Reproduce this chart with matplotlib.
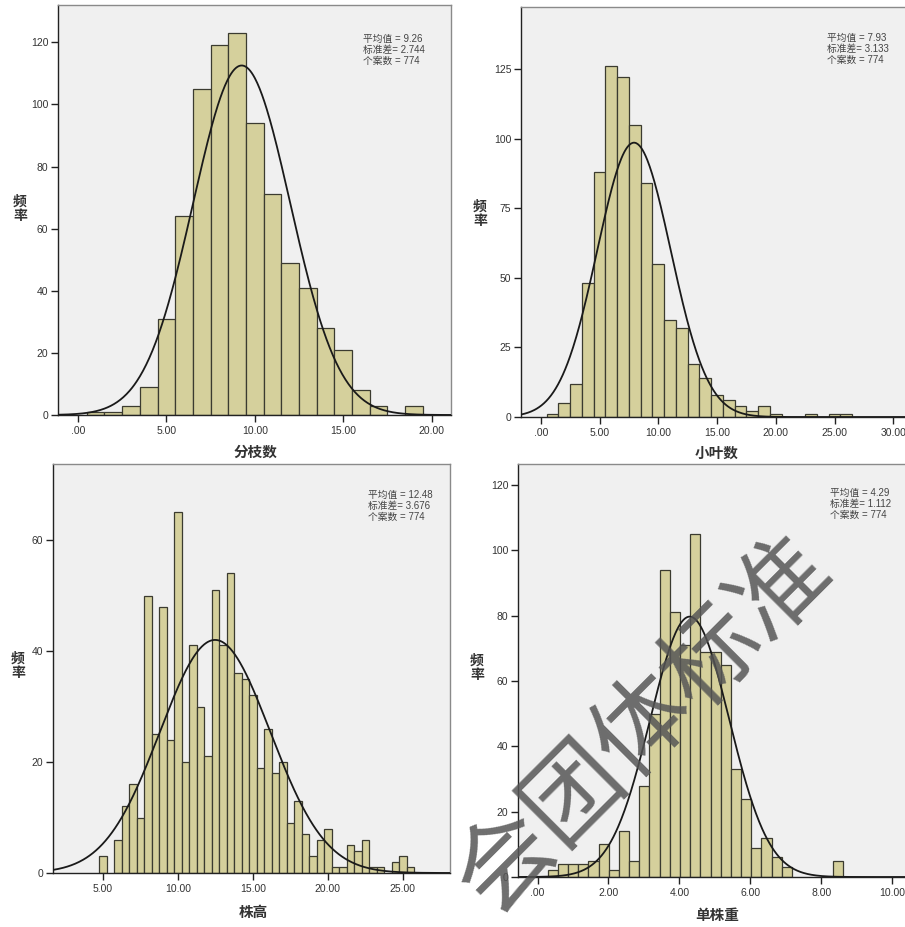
import numpy as np
import matplotlib.pyplot as plt

plt.rcParams['font.family'] = ['Liberation Sans', 'Noto Sans CJK SC']

# 分枝数 - bins of width 1 centred on whole numbers
branch_centers = list(range(1, 20))
branch_counts = [1, 1, 3, 9, 31, 64, 105, 119, 123, 94, 71, 49, 41, 28, 21, 8, 3, 0, 3]

# 小叶数 - bins of width 1
leaf_centers = list(range(1, 27))
leaf_counts = [1, 5, 12, 48, 88, 126, 122, 105, 84, 55, 35, 32, 19, 14, 8, 6, 4, 2, 4, 1,
               0, 0, 1, 0, 1, 1]

# 株高 - bins of width 0.5 from 5.0 to 25.5
height_centers = [5.0 + 0.5 * i for i in range(42)]
height_counts = [3, 0, 6, 12, 16, 10, 50, 25, 48, 24, 65, 20, 41, 30, 21, 51, 41, 54, 36, 35,
                 32, 19, 26, 18, 20, 9, 13, 7, 3, 6, 8, 1, 1, 5, 4, 6, 1, 1, 0, 2, 3, 1]

# 单株重 - narrow bins (~0.287) starting at 0.285
weight_bin_start = 0.285
weight_bin_width = 0.287
weight_counts = [2, 4, 4, 4, 5, 10, 2, 14, 5, 28, 50, 94, 81, 71, 105, 69, 69, 65, 33, 24,
                 9, 12, 6, 3, 0, 0, 0, 0, 5]
weight_centers = [weight_bin_start + weight_bin_width * (i + 0.5) for i in range(len(weight_counts))]

# summary stats shown in each panel
names = ['分枝数', '小叶数', '株高', '单株重']
means = [9.26, 7.93, 12.48, 4.29]
sds = [2.744, 3.133, 3.676, 1.112]
n_cases = [774, 774, 774, 774]

W, H = 905, 927
fig = plt.figure(figsize=(W / 100, H / 100), dpi=100)


def box(l, t, r, b):
    return [l / W, 1 - b / H, (r - l) / W, (b - t) / H]


def fx(x):
    return x / W


def fy(y):
    return 1 - y / H


def fmt(v):
    return ('%.2f' % v).lstrip('0') if v < 1 else '%.2f' % v


def draw(ax, centers, counts, width, mean, sd, n, xlim, ylim, xticks, yticks):
    ax.set_facecolor('#f0f0f0')
    c = np.array(centers, float)
    h = np.array(counts, float)
    keep = h > 0
    ax.bar(c[keep], h[keep], width=width, color='#d5d09c', edgecolor='#3b3b30',
           linewidth=0.9, zorder=2)
    # fitted normal curve
    xs = np.linspace(xlim[0], xlim[1], 500)
    ys = n * width / (sd * np.sqrt(2 * np.pi)) * np.exp(-0.5 * ((xs - mean) / sd) ** 2)
    ax.plot(xs, ys, color='#1a1a1a', lw=1.3, zorder=3)
    ax.set_xlim(*xlim)
    ax.set_ylim(*ylim)
    ax.set_xticks(xticks)
    ax.set_xticklabels([fmt(v) for v in xticks])
    ax.set_yticks(yticks)
    ax.set_yticklabels([str(v) for v in yticks])
    ax.tick_params(direction='out', length=5, width=1, labelsize=7.5, color='#222222',
                   labelcolor='#333333', pad=2)
    ax.tick_params(axis='x', pad=3)
    for s in ['left', 'bottom']:
        ax.spines[s].set_color('#222222')
        ax.spines[s].set_linewidth(1)
    for s in ['top', 'right']:
        ax.spines[s].set_color('#8a8a8a')
        ax.spines[s].set_linewidth(1)


panels = [
    # data, axes box (px), xlim, ylim, xticks, yticks, stats pos, ylabel pos, xlabel pos
    (branch_centers, branch_counts, 1.0, box(58, 5, 451, 415), (-1.13, 21.1), (0, 132),
     [0, 5, 10, 15, 20], [0, 20, 40, 60, 80, 100, 120], (363, 39), (20, 209), (255, 452)),
    (leaf_centers, leaf_counts, 1.0, box(521, 7, 915, 417), (-1.69, 31.85), (0, 147.3),
     [0, 5, 10, 15, 20, 25, 30], [0, 25, 50, 75, 100, 125], (827, 38), (480, 214), (717, 453)),
    (height_centers, height_counts, 0.5, box(53, 464, 450, 873), (1.67, 28.15), (0, 73.7),
     [5, 10, 15, 20, 25], [0, 20, 40, 60], (368, 495), (18, 666), (253, 912)),
    (weight_centers, weight_counts, weight_bin_width, box(518, 464, 915, 877), (-0.55, 10.64),
     (0, 126.4), [0, 2, 4, 6, 8, 10], [0, 20, 40, 60, 80, 100, 120], (830, 493), (477, 668),
     (717, 915)),
]

for i, p in enumerate(panels):
    centers, counts, width, rect, xlim, ylim, xt, yt, spos, ypos, xpos = p
    ax = fig.add_axes(rect)
    draw(ax, centers, counts, width, means[i], sds[i], n_cases[i], xlim, ylim, xt, yt)
    lines = ['平均值 = %.2f' % means[i], '标准差= %.3f' % sds[i], '个案数 = %d' % n_cases[i]]
    for k, line in enumerate(lines):
        fig.text(fx(spos[0]), fy(spos[1] + 11 * k), line, fontsize=7, color='#444444',
                 ha='left', va='center')
    fig.text(fx(ypos[0]), fy(ypos[1]), '频\n率', fontsize=10, fontweight='bold',
             family='Noto Sans CJK SC', color='#333333', ha='center', va='center',
             linespacing=1.0)
    fig.text(fx(xpos[0]), fy(xpos[1]), names[i], fontsize=10.5, fontweight='bold',
             family='Noto Sans CJK SC', color='#333333', ha='center', va='center')

# watermark across the lower right
fig.text(fx(645), fy(725), '会团体标准', fontsize=70, color='#555555', alpha=0.85,
         family='Noto Sans CJK SC', rotation=45, rotation_mode='anchor',
         ha='center', va='center', zorder=10)

fig.savefig('out.png', dpi=100)
